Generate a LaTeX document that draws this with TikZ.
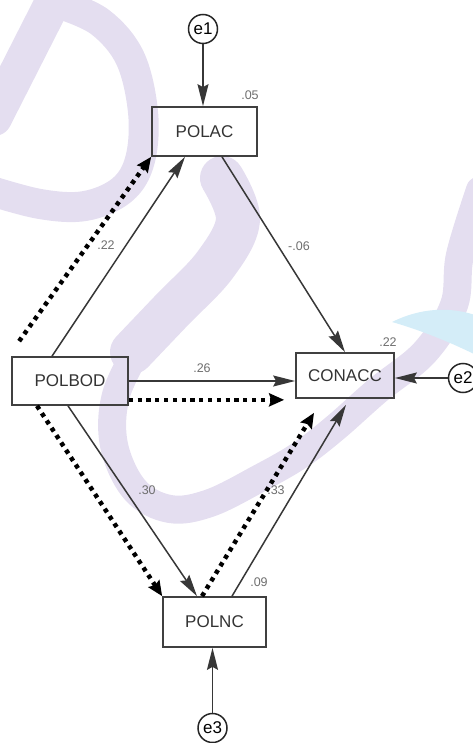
\documentclass[tikz,border=0pt]{standalone}
\usepackage{fontspec}
\setmainfont{Liberation Sans}
\usetikzlibrary{arrows.meta,calc}

\definecolor{wmlilac}{RGB}{228,222,240}
\definecolor{wmblue}{RGB}{212,237,248}
\definecolor{boxline}{RGB}{64,64,64}
\definecolor{pathline}{RGB}{55,55,55}
\definecolor{coef}{RGB}{110,110,110}

\begin{document}
\begin{tikzpicture}[x=1pt,y=-1pt,
  varbox/.style={draw=boxline,line width=1.7pt,inner sep=0pt,
    font=\fontsize{17}{20}\selectfont,text=black!80},
  errc/.style={circle,draw=black!85,line width=1.5pt,minimum size=29pt,
    inner sep=0pt,font=\fontsize{17}{18}\selectfont},
  solidpath/.style={draw=pathline,line width=1.5pt,
    -{Stealth[length=22pt,width=11pt,inset=3pt]}},
  dotpath/.style={draw=black,line width=4.5pt,dash pattern=on 4.2pt off 4.6pt,
    -{Stealth[length=15pt,width=13pt,inset=2pt]}},
  coefl/.style={text=coef,font=\fontsize{12.5}{14}\selectfont,inner sep=0pt},
  wmark/.style={line cap=round,line join=round,wmlilac}]

\useasboundingbox (0,0) rectangle (473,743);

% faint background watermark strokes
\begin{scope}
  \clip (0,0) rectangle (473,743);
  % slanted "D"
  \draw[wmark,line width=36pt] (58,-8) -- (-6,118);
  \draw[wmark,line width=30pt] plot[smooth,tension=0.6] coordinates
    {(60,4) (100,22) (130,58) (143,112) (140,160) (122,190) (85,206) (40,204) (-12,190)};
  % long hooked stroke
  \draw[wmark,line width=44pt] plot[smooth,tension=0.6] coordinates
    {(222,178) (238,220) (215,265) (172,310) (132,352)};
  \draw[wmark,line width=28pt] plot[smooth,tension=0.6] coordinates
    {(140,345) (116,395) (114,445) (135,490) (170,509) (210,503) (260,478)
     (300,455) (335,428) (378,390) (425,352) (454,305) (460,255) (480,190)};
  % light blue swoosh
  \fill[wmblue] (392,322) .. controls (420,308) and (450,306) .. (478,316)
    -- (478,356) .. controls (450,342) and (420,330) .. cycle;
\end{scope}

% observed variables
\node[varbox,minimum width=105pt,minimum height=49pt] (polac)  at (204.5,131.5) {POLAC};
\node[varbox,minimum width=116pt,minimum height=48pt] (polbod) at (70,381)      {POLBOD};
\node[varbox,minimum width=98pt, minimum height=45pt] (conacc) at (345,375.5)   {CONACC};
\node[varbox,minimum width=103pt,minimum height=50pt] (polnc)  at (214.5,622)   {POLNC};

% error terms
\node[errc] (e1) at (203,29)    {e1};
\node[errc] (e2) at (463,378)   {e2};
\node[errc] (e3) at (212.5,728) {e3};

% solid structural paths
\draw[solidpath] (e1.south) -- (e1.south |- polac.north);
\draw[solidpath] (e2.west) -- (e2.west -| conacc.east);
\draw[solidpath] (e3.north) -- (e3.north |- polnc.south);
\draw[solidpath] ([xshift=-18pt]polbod.north) -- ([xshift=-19.5pt]polac.south);
\draw[solidpath] ([xshift=17.5pt]polac.south) -- (conacc.north);
\draw[solidpath] (polbod.east) -- (polbod.east -| conacc.west);
\draw[solidpath] ([xshift=-2pt]polbod.south) -- ([xshift=-17.5pt]polnc.north);
\draw[solidpath] ([xshift=17.5pt]polnc.north) -- ($(conacc.south)+(1,6)$);

% dotted indirect paths
\draw[dotpath] ($(polbod.north west)+(8,-15)$) -- (polac.south west);
\draw[dotpath] ([yshift=6pt]polbod.south east) -- ($(conacc.west |- polbod.south east)+(-11,-6)$);
\draw[dotpath] ([xshift=-33pt]polbod.south) -- (polnc.north west);
\draw[dotpath] ([xshift=-12.5pt]polnc.north) -- ($(conacc.south)+(-31,14)$);

% coefficients
\node[coefl] (r1)  at (250,95)  {.05};
\node[coefl] (r2)  at (388,342) {.22};
\node[coefl] (r3)  at (259,582) {.09};
\node[coefl] (c1)  at (106,245) {.22};
\node[coefl] (c2)  at (299,246) {-.06};
\node[coefl] (c3)  at (202,368) {.26};
\node[coefl] (c4)  at (147,490) {.30};
\node[coefl] (c5)  at (276,490) {.33};

\end{tikzpicture}
\end{document}
